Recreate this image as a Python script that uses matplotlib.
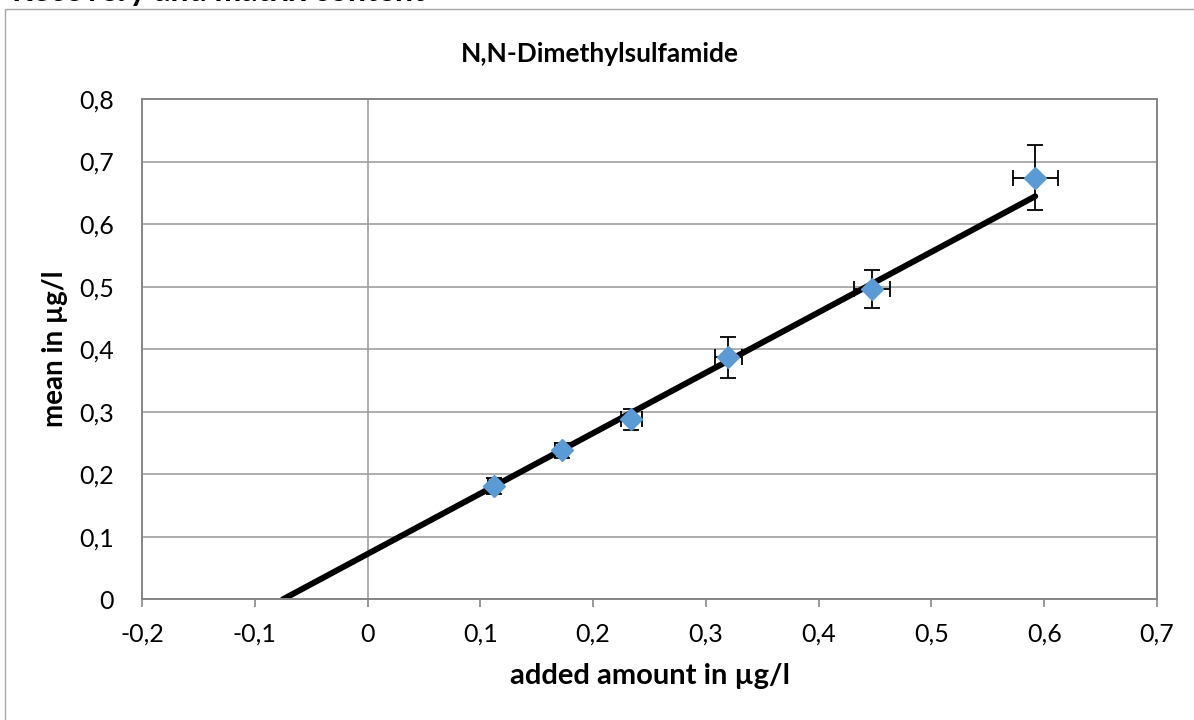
import matplotlib
matplotlib.use("Agg")
import matplotlib.pyplot as plt
from matplotlib.patches import Rectangle
import numpy as np

plt.rcParams['font.family'] = ['Lato', 'DejaVu Sans']

# ---- data ----
added = [0.112, 0.172, 0.234, 0.320, 0.447, 0.592]
mean = [0.181, 0.238, 0.288, 0.387, 0.496, 0.674]
mean_err = [0.013, 0.012, 0.017, 0.033, 0.030, 0.052]
added_err = [0.005, 0.006, 0.009, 0.012, 0.016, 0.020]
trend_slope = 0.966
trend_intercept = 0.0725
x_ticks = [-0.2, -0.1, 0, 0.1, 0.2, 0.3, 0.4, 0.5, 0.6, 0.7]
y_ticks = [0, 0.1, 0.2, 0.3, 0.4, 0.5, 0.6, 0.7, 0.8]
title = "N,N-Dimethylsulfamide"
sheet_title = "Recovery and matrix content"
xlabel = "added amount in µg/l"
ylabel = "mean in µg/l"

W, H = 1194, 720
fig = plt.figure(figsize=(W / 100, H / 100), dpi=100)

# outer chart border
fig.patches.append(Rectangle((5 / W, -0.05), 1.2, 1 - 9 / H + 0.05, transform=fig.transFigure,
                             fill=False, edgecolor='#A6A6A6', linewidth=1.0))

L, R, T, B = 142, 1157, 99, 599.3
ax = fig.add_axes([L / W, (H - B) / H, (R - L) / W, (B - T) / H])

grid_c = '#A0A0A0'
spine_c = '#868686'
ax.set_xlim(x_ticks[0], x_ticks[-1])
ax.set_ylim(y_ticks[0], y_ticks[-1])
ax.set_xticks(x_ticks)
ax.set_yticks(y_ticks)


def fmt(v):
    s = ('%g' % round(v, 3)).replace('.', ',')
    return '0' if s in ('-0', '0') else s


ax.set_xticklabels([fmt(v) for v in x_ticks], fontsize=18)
ax.set_yticklabels([fmt(v) for v in y_ticks], fontsize=18)
ax.tick_params(axis='x', direction='out', length=6, width=1.2, color=spine_c, pad=11)
ax.tick_params(axis='y', length=0, pad=20)
for s in ax.spines.values():
    s.set_color(spine_c)
    s.set_linewidth(1.4)
ax.yaxis.grid(True, color=grid_c, linewidth=1.2)
ax.set_axisbelow(True)
ax.axvline(0, color=grid_c, linewidth=1.2, zorder=0.5)

# trendline
x0 = -trend_intercept / trend_slope
x1 = added[-1]
ax.plot([x0, x1], [0, trend_intercept + trend_slope * x1], color='black', linewidth=4.3,
        solid_capstyle='round', zorder=2)

# error bars + markers
ax.errorbar(added, mean, yerr=mean_err, xerr=added_err, fmt='none', ecolor='black',
            elinewidth=1.3, capsize=5.5, capthick=1.3, zorder=3)
ax.plot(added, mean, linestyle='none', marker='D', markersize=11, color='#5B9BD5',
        markeredgecolor='#5B9BD5', zorder=4)

ax.set_xlabel(xlabel, fontsize=21, fontweight='bold')
ax.set_ylabel(ylabel, fontsize=20, fontweight='bold')
ax.xaxis.set_label_coords(0.5, -(676 - B) / (B - T), transform=ax.transAxes)
ax.xaxis.label.set_va('center')
ax.yaxis.set_label_coords(-(L - 55) / (R - L), 0.5, transform=ax.transAxes)
ax.yaxis.label.set_va('center')

fig.text(600 / W, 1 - 54 / H, title, ha='center', va='center', fontsize=19, fontweight='bold')
fig.text(12 / W, 1 - 1 / H, sheet_title, ha='left', va='baseline', fontsize=23, fontweight='bold')

fig.savefig('out.png', dpi=100)
